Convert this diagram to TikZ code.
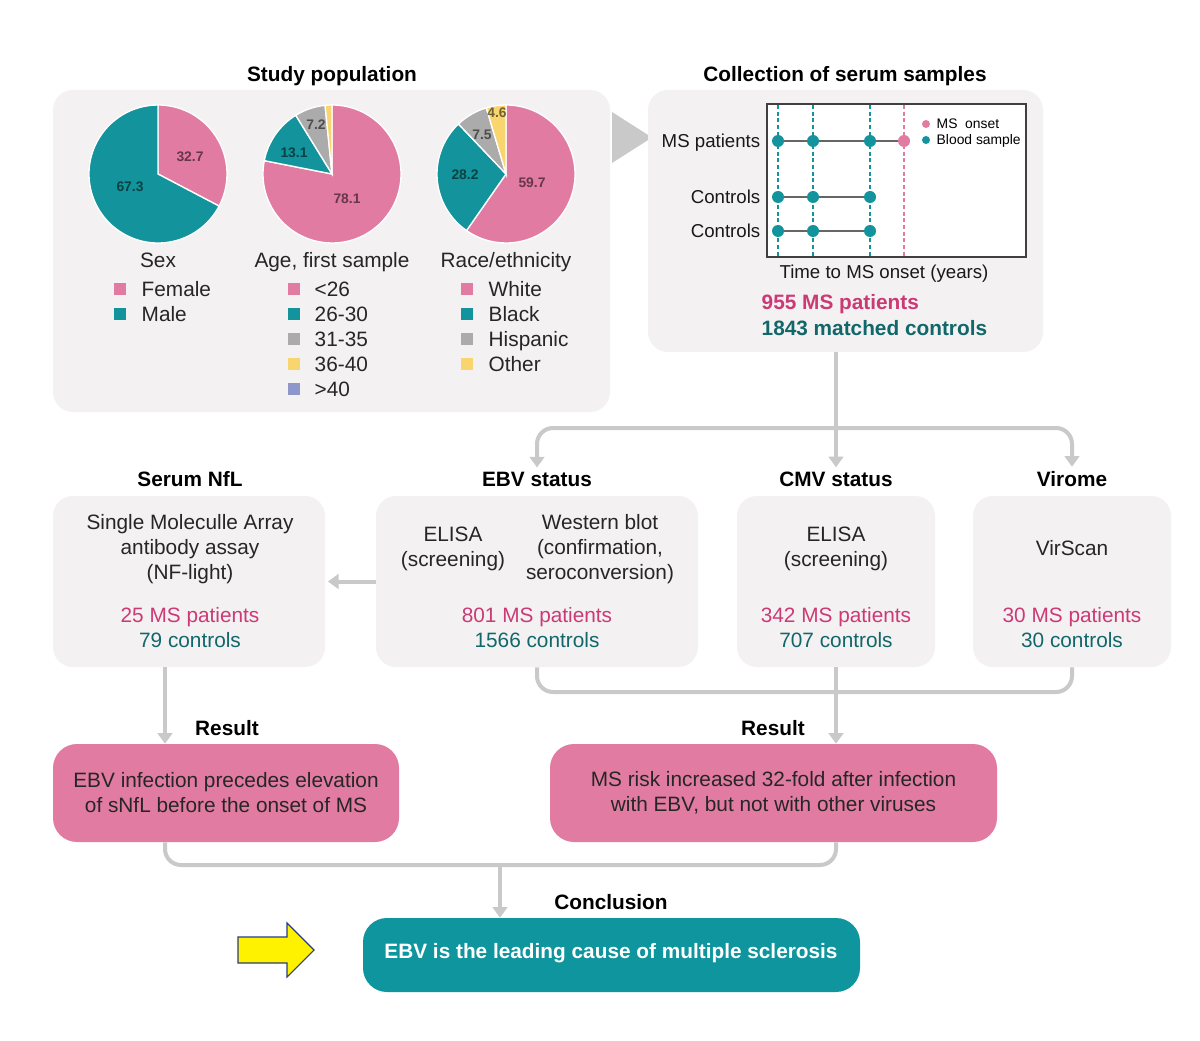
\documentclass[tikz,border=0pt]{standalone}
\usepackage{fontspec}
\setmainfont{Liberation Sans}
\usetikzlibrary{arrows.meta,fit}

\definecolor{panelgray}{HTML}{F3F1F1}
\definecolor{linegray}{HTML}{C9C9C9}
\definecolor{mspink}{HTML}{E27BA1}
\definecolor{msteal}{HTML}{13939B}
\definecolor{slicegray}{HTML}{ABABAB}
\definecolor{sliceyellow}{HTML}{F8D56E}
\definecolor{slicelilac}{HTML}{8E97C9}
\definecolor{pinktext}{HTML}{CC3A76}
\definecolor{tealtext}{HTML}{11676A}
\definecolor{boxteal}{HTML}{0F959D}
\definecolor{arrowblue}{HTML}{2A3C7A}

\newcommand{\bodysize}{\fontsize{15.6pt}{18.75pt}\selectfont}
\newcommand{\plotsize}{\fontsize{14pt}{17pt}\selectfont}
\newcommand{\tinysize}{\fontsize{10.4pt}{12pt}\selectfont}

\tikzset{
  panel/.style={fill=panelgray, rounded corners=15pt, inner sep=0pt},
  resultbox/.style={fill=mspink, rounded corners=18pt, inner sep=0pt},
  headtext/.style={font=\bodysize\bfseries, anchor=base},
  boxtext/.style={font=\bodysize, align=center, text=black!85},
  legtext/.style={font=\bodysize, anchor=base west, text=black!85},
  legsq/.style={minimum size=8.5pt, inner sep=0pt},
  slicenum/.style={font=\fontsize{10.4pt}{12pt}\selectfont\bfseries, text=black, text opacity=0.55},
  plotlab/.style={font=\plotsize, text=black!90},
  gline/.style={draw=linegray, line width=3pt},
  garrow/.style={gline, -{Triangle[width=11pt,length=8pt]}},
}

\begin{document}
\begin{tikzpicture}[x=0.75pt, y=-0.75pt]
  \fill[white] (0,0) rectangle (1200,1041);
  \useasboundingbox (0,0) rectangle (1200,1041);

  % Study population
  \node[headtext] (poptitle) at (332,81.5) {Study population};
  \node[panel, fit={(53,90) (610,412)}] (pop) {};
  \foreach \a/\b/\c in {-90/27.72/mspink, 27.72/270/msteal}
    \filldraw[fill=\c, draw=white, line width=1pt] (158,174) -- ++(\a:69) arc[start angle=\a, end angle=\b, radius=69] -- cycle;
  \foreach \a/\b/\c in {-90/191.16/mspink, 191.16/238.32/msteal, 238.32/264.24/slicegray, 264.24/270/sliceyellow}
    \filldraw[fill=\c, draw=white, line width=1pt] (332,174) -- ++(\a:69) arc[start angle=\a, end angle=\b, radius=69] -- cycle;
  \foreach \a/\b/\c in {-90/124.92/mspink, 124.92/226.44/msteal, 226.44/253.44/slicegray, 253.44/270/sliceyellow}
    \filldraw[fill=\c, draw=white, line width=1pt] (506,174) -- ++(\a:69) arc[start angle=\a, end angle=\b, radius=69] -- cycle;
  \node[slicenum] (sexf) at (190,157) {32.7};
  \node[slicenum] (sexm) at (130,187) {67.3};
  \node[slicenum] (agea) at (347,199) {78.1};
  \node[slicenum] (ageb) at (294,153) {13.1};
  \node[slicenum] (agec) at (316,125) {7.2};
  \node[slicenum] (racea) at (532,183) {59.7};
  \node[slicenum] (raceb) at (465,175) {28.2};
  \node[slicenum] (racec) at (482,135) {7.5};
  \node[slicenum] (raced) at (497,113) {4.6};

  \node[legtext, anchor=base] (sexlab) at (158,267.5) {Sex};
  \node[legtext, anchor=base] (agelab) at (332,267.5) {Age, first sample};
  \node[legtext, anchor=base] (racelab) at (506,267.5) {Race/ethnicity};

  \foreach \t/\c [count=\i] in {Female/mspink, Male/msteal} {
    \node[legsq, fill=\c] (sexsq\i) at (120,264+25*\i) {};
    \node[legtext] (sexleg\i) at (137,271.5+25*\i) {\t};
  }
  \foreach \t/\c [count=\i] in {<26/mspink, 26-30/msteal, 31-35/slicegray, 36-40/sliceyellow, >40/slicelilac} {
    \node[legsq, fill=\c] (agesq\i) at (294,264+25*\i) {};
    \node[legtext] (ageleg\i) at (310,271.5+25*\i) {\t};
  }
  \foreach \t/\c [count=\i] in {White/mspink, Black/msteal, Hispanic/slicegray, Other/sliceyellow} {
    \node[legsq, fill=\c] (racesq\i) at (467,264+25*\i) {};
    \node[legtext] (raceleg\i) at (484,271.5+25*\i) {\t};
  }

  % Collection of serum samples
  \fill[linegray] (612,112) -- (652,137.5) -- (612,163) -- cycle;
  \node[headtext] (colltitle) at (845,81.5) {Collection of serum samples};
  \node[panel, fit={(648,90) (1043,352)}] (coll) {};
  \node[draw=black!75, line width=1.2pt, fill=white, inner sep=0pt, fit={(767,104) (1026,257)}] (plot) {};
  \foreach \x in {778,813,870}
    \draw[msteal, line width=1.4pt, dash pattern=on 3pt off 2pt] (\x,105) -- (\x,256);
  \draw[mspink, line width=0.8pt, dash pattern=on 3pt off 2pt] (904,105) -- (904,256);
  \foreach \y/\e in {141/904, 197/870, 231/870}
    \draw[black!60, line width=0.9pt] (778,\y) -- (\e,\y);
  \foreach \y in {141,197,231}
    \foreach \x in {778,813,870}
      \fill[msteal] (\x,\y) circle[radius=6];
  \fill[mspink] (904,141) circle[radius=6];
  \fill[mspink] (926,124) circle[radius=4];
  \fill[msteal] (926,140) circle[radius=4];
  \node[font=\tinysize, anchor=base west] (legonset) at (932,129) {MS~ onset};
  \node[font=\tinysize, anchor=base west] (legblood) at (932,145) {Blood sample};
  \node[plotlab, anchor=base east] (rowms) at (765,147.8) {MS patients};
  \node[plotlab, anchor=base east] (rowc1) at (765,203.5) {Controls};
  \node[plotlab, anchor=base east] (rowc2) at (765,237.5) {Controls};
  \node[plotlab, anchor=base] (xlab) at (884,278.8) {Time to MS onset (years)};
  \node[font=\bodysize\bfseries, text=pinktext, anchor=base west] (collms) at (757,309.5) {955 MS patients};
  \node[font=\bodysize\bfseries, text=tealtext, anchor=base west] (collctl) at (757,335.5) {1843 matched controls};

  % Assays
  \node[headtext] (nfltitle) at (190,486.5) {Serum NfL};
  \node[headtext] (ebvtitle) at (537,486.5) {EBV status};
  \node[headtext] (cmvtitle) at (836,486.5) {CMV status};
  \node[headtext] (virtitle) at (1072,486.5) {Virome};
  \node[panel, fit={(53,496) (325,667)}] (nfl) {};
  \node[panel, fit={(376,496) (698,667)}] (ebv) {};
  \node[panel, fit={(737,496) (935,667)}] (cmv) {};
  \node[panel, fit={(973,496) (1171,667)}] (vir) {};

  \node[boxtext] (nflmeth) at (190,549) {Single Moleculle Array\\antibody assay\\(NF-light)};
  \node[boxtext] (ebvelisa) at (453,549) {ELISA\\(screening)};
  \node[boxtext] (ebvwb) at (600,549) {Western blot\\(confirmation,\\seroconversion)};
  \node[boxtext] (cmvelisa) at (836,549) {ELISA\\(screening)};
  \node[boxtext] (virscan) at (1072,548) {VirScan};
  \node[boxtext] (nflnum) at (190,628) {\textcolor{pinktext}{25 MS patients}\\\textcolor{tealtext}{79 controls}};
  \node[boxtext] (ebvnum) at (537,628) {\textcolor{pinktext}{801 MS patients}\\\textcolor{tealtext}{1566 controls}};
  \node[boxtext] (cmvnum) at (836,628) {\textcolor{pinktext}{342 MS patients}\\\textcolor{tealtext}{707 controls}};
  \node[boxtext] (virnum) at (1072,628) {\textcolor{pinktext}{30 MS patients}\\\textcolor{tealtext}{30 controls}};

  % Results and conclusion
  \node[headtext] (restitle1) at (227,735.5) {Result};
  \node[headtext] (restitle2) at (773,735.5) {Result};
  \node[resultbox, fit={(53,744) (399,842)}] (res1) {};
  \node[resultbox, fit={(550,744) (997,842)}] (res2) {};
  \node[boxtext] (res1text) at (res1.center) {EBV infection precedes elevation\\of sNfL before the onset of MS};
  \node[boxtext] (res2text) at (res2.center) {MS risk increased 32-fold after infection\\with EBV, but not with other viruses};
  \node[headtext] (conctitle) at (611,909.5) {Conclusion};
  \node[resultbox, fill=boxteal, fit={(363,918) (860,992)}] (concl) {};
  \node[font=\bodysize\bfseries, text=white] (concltext) at (611,953) {EBV is the leading cause of multiple sclerosis};
  \filldraw[fill=yellow, draw=arrowblue, line width=0.8pt] (238,937) -- (287,937) -- (287,923) -- (314,950) -- (287,977) -- (287,963) -- (238,963) -- cycle;

  % Connectors
  \coordinate (split) at (836,428);
  \coordinate (merge) at (836,692);
  \coordinate (join) at (500,865);
  \coordinate (nflout) at ([xshift=-18pt]nfl.south);
  \draw[garrow] (coll.south -| cmvtitle.north) -- (cmvtitle.north);
  \draw[garrow, rounded corners=12pt] (split) -| (ebvtitle.north);
  \draw[garrow, rounded corners=12pt] (split) -| (virtitle.north);
  \draw[garrow, shorten >=2pt] (ebv.west) -- (nfl.east);
  \draw[gline, rounded corners=12pt] (ebv.south) |- (merge) -| (vir.south);
  \draw[garrow] (cmv.south) -- (cmv.south |- res2.north);
  \draw[garrow] (nflout) -- (nflout |- res1.north);
  \draw[gline, rounded corners=12pt] (nflout |- res1.south) |- (join) -| (cmv.south |- res2.south);
  \draw[garrow] (join) -- (join |- concl.north);
\end{tikzpicture}
\end{document}
